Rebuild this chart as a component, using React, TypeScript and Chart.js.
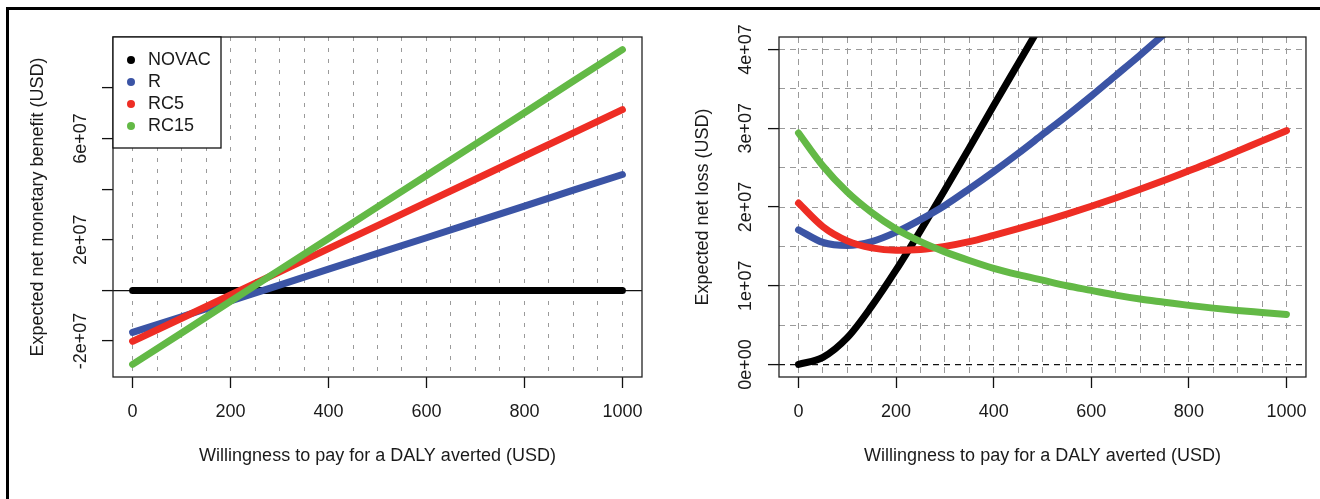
import React, { useEffect, useRef } from 'react';
import { Chart, registerables } from 'chart.js';

Chart.register(...registerables);

const FONT = '"Liberation Sans", Arial, Helvetica, sans-serif';
const TXT = '#1a1a1a';
const M = 1e6; // values below are in millions of USD

const strategies = ['NOVAC', 'R', 'RC5', 'RC15'];
const strategyColors = ['#000000', '#3B54A5', '#EE2D24', '#63B946'];

// Left panel: expected net monetary benefit (million USD)
const wtpLeft = [0, 100, 200, 300, 400, 500, 600, 700, 800, 900, 1000];
const nmbNOVAC = [0, 0, 0, 0, 0, 0, 0, 0, 0, 0, 0];
const nmbR = [-16.6, -10.4, -4.1, 2.1, 8.4, 14.6, 20.8, 27.1, 33.3, 39.6, 45.8];
const nmbRC5 = [-20.1, -11.0, -1.8, 7.3, 16.5, 25.6, 34.8, 43.9, 53.1, 62.2, 71.4];
const nmbRC15 = [-29.2, -16.8, -4.3, 8.1, 20.5, 33.0, 45.4, 57.8, 70.2, 82.7, 95.1];

// Right panel: expected net loss (million USD)
const wtpRight = [0, 50, 100, 150, 200, 250, 300, 350, 400, 450, 500, 550, 600, 650, 700, 750, 800, 850, 900, 950, 1000];
const lossNOVAC = [0, 0.9, 3.4, 7.4, 12.0, 17.0, 22.2, 27.5, 32.9, 38.2, 43.5, 48.8, 54.3, 59.8, 65.5, 71.2, 77.0, 82.9, 88.9, 94.8, 100.8];
const lossR = [17.1, 15.5, 15.1, 15.6, 16.8, 18.4, 20.2, 22.3, 24.5, 26.8, 29.2, 31.6, 34.1, 36.7, 39.3, 42.0, 44.7, 47.4, 50.1, 52.8, 55.4];
const lossRC5 = [20.5, 17.5, 15.7, 14.8, 14.5, 14.6, 15.0, 15.6, 16.4, 17.25, 18.15, 19.1, 20.1, 21.15, 22.25, 23.4, 24.6, 25.8, 27.1, 28.4, 29.7];
const lossRC15 = [29.4, 25.2, 21.9, 19.3, 17.2, 15.6, 14.3, 13.2, 12.2, 11.4, 10.7, 10.0, 9.4, 8.8, 8.3, 7.9, 7.5, 7.15, 6.85, 6.6, 6.35];

// Axes
const xLim = [-40, 1040];
const xTicks = [0, 200, 400, 600, 800, 1000];
const xTickLabels = ['0', '200', '400', '600', '800', '1000'];
const xGridLines = [0, 50, 100, 150, 200, 250, 300, 350, 400, 450, 500, 550, 600, 650, 700, 750, 800, 850, 900, 950, 1000];

const yLimLeft = [-34.2e6, 100.1e6];
const yTicksLeft = [-2e7, 0, 2e7, 4e7, 6e7, 8e7];
const yTickLabelsLeft = ['-2e+07', '', '2e+07', '', '6e+07', ''];

const yLimRight = [-1.6e6, 41.6e6];
const yTicksRight = [0, 1e7, 2e7, 3e7, 4e7];
const yTickLabelsRight = ['0e+00', '1e+07', '2e+07', '3e+07', '4e+07'];
const yGridRight = [0, 5e6, 1e7, 1.5e7, 2e7, 2.5e7, 3e7, 3.5e7, 4e7];

const xTitle = 'Willingness to pay for a DALY averted (USD)';
const yTitleLeft = 'Expected net monetary benefit (USD)';
const yTitleRight = 'Expected net loss (USD)';

const boxPlugin = {
  id: 'rbox',
  afterDraw(chart: any) {
    const { ctx, chartArea: a } = chart;
    ctx.save();
    ctx.strokeStyle = '#222';
    ctx.lineWidth = 1.3;
    ctx.strokeRect(a.left, a.top, a.right - a.left, a.bottom - a.top);
    ctx.restore();
  },
};

const legendPlugin = {
  id: 'rlegend',
  afterDraw(chart: any) {
    const { ctx, chartArea: a } = chart;
    const x0 = a.left;
    const y0 = a.top;
    const w = 108;
    const h = 111;
    ctx.save();
    ctx.fillStyle = '#ffffff';
    ctx.fillRect(x0, y0, w, h);
    ctx.strokeStyle = '#111';
    ctx.lineWidth = 1.3;
    ctx.strokeRect(x0, y0, w, h);
    ctx.font = `18px ${FONT}`;
    ctx.textBaseline = 'middle';
    ctx.textAlign = 'left';
    chart.data.datasets.forEach((ds: any, i: number) => {
      const y = y0 + 23 + i * 22;
      ctx.fillStyle = ds.borderColor;
      ctx.beginPath();
      ctx.arc(x0 + 18, y, 4, 0, Math.PI * 2);
      ctx.fill();
      ctx.fillStyle = TXT;
      ctx.fillText(ds.label, x0 + 35, y);
    });
    ctx.restore();
  },
};

function makeDatasets(xs: number[], series: number[][], smooth: boolean) {
  return series.map((vals, i) => ({
    label: strategies[i],
    data: xs.map((x, j) => ({ x, y: vals[j] * M })),
    borderColor: strategyColors[i],
    backgroundColor: strategyColors[i],
    borderWidth: 7,
    pointRadius: 0,
    borderCapStyle: 'round',
    borderJoinStyle: 'round',
    fill: false,
    clip: 0,
    order: series.length - 1 - i,
    cubicInterpolationMode: smooth ? 'monotone' : 'default',
  }));
}

function mainX() {
  return {
    type: 'linear',
    position: 'bottom',
    min: xLim[0],
    max: xLim[1],
    afterBuildTicks: (s: any) => {
      s.ticks = xTicks.map((v) => ({ value: v }));
    },
    afterFit: (s: any) => {
      s.height = 122;
    },
    ticks: {
      autoSkip: false,
      padding: 13,
      color: TXT,
      font: { size: 18, family: FONT },
      minRotation: 0,
      maxRotation: 0,
      callback: (_v: any, i: number) => xTickLabels[i],
    },
    grid: { drawOnChartArea: false, drawTicks: true, tickLength: 11, tickColor: '#111', tickWidth: 1.3 },
    border: { display: false },
    title: { display: true, text: xTitle, color: TXT, font: { size: 18, family: FONT }, padding: { top: 0, bottom: 32 } },
  };
}

function gridAxis(position: string, lim: number[], values: number[], color: any, dash: number[]) {
  return {
    type: 'linear',
    position,
    min: lim[0],
    max: lim[1],
    afterBuildTicks: (s: any) => {
      s.ticks = values.map((v) => ({ value: v }));
    },
    afterFit: (s: any) => {
      if (s.isHorizontal()) s.height = 0;
      else s.width = 0;
    },
    ticks: { display: false, autoSkip: false },
    grid: { drawOnChartArea: true, drawTicks: false, color, lineWidth: 1 },
    border: { display: false, dash },
  };
}

function mainY(lim: number[], values: number[], labels: string[], width: number, pad: number, title: string, titlePad: number, zeroDash: number[]) {
  return {
    type: 'linear',
    position: 'left',
    min: lim[0],
    max: lim[1],
    afterBuildTicks: (s: any) => {
      s.ticks = values.map((v) => ({ value: v }));
    },
    afterFit: (s: any) => {
      s.width = width;
    },
    ticks: {
      autoSkip: false,
      minRotation: 90,
      maxRotation: 90,
      crossAlign: 'center',
      padding: pad,
      color: TXT,
      font: { size: 18, family: FONT },
      callback: (_v: any, i: number) => labels[i],
    },
    grid: {
      drawOnChartArea: true,
      color: (c: any) => (c.tick && c.tick.value === 0 ? '#111' : 'rgba(0,0,0,0)'),
      lineWidth: 1.2,
      drawTicks: true,
      tickLength: 11,
      tickColor: '#111',
      tickWidth: 1.3,
    },
    border: { display: false, dash: zeroDash },
    title: { display: true, text: title, color: TXT, font: { size: 18, family: FONT }, padding: { top: titlePad, bottom: 0 } },
  };
}

export default function App() {
  const leftRef = useRef<HTMLCanvasElement | null>(null);
  const rightRef = useRef<HTMLCanvasElement | null>(null);

  useEffect(() => {
    Chart.defaults.font.family = FONT;
    Chart.defaults.font.size = 18;
    Chart.defaults.color = TXT;

    const common = {
      responsive: false,
      maintainAspectRatio: false,
      animation: false,
      events: [],
      plugins: { legend: { display: false }, tooltip: { enabled: false } },
    };

    const left = new Chart(leftRef.current as HTMLCanvasElement, {
      type: 'line',
      data: { datasets: makeDatasets(wtpLeft, [nmbNOVAC, nmbR, nmbRC5, nmbRC15], false) as any },
      options: {
        ...common,
        layout: { padding: { top: 37, right: 18, left: 0, bottom: 0 } },
        scales: {
          x: mainX(),
          xg: gridAxis('top', xLim, xGridLines, '#9a9a9a', [4, 7]),
          y: mainY(yLimLeft, yTicksLeft, yTickLabelsLeft, 113, -7, yTitleLeft, 27, []),
        },
      } as any,
      plugins: [boxPlugin, legendPlugin],
    });

    const right = new Chart(rightRef.current as HTMLCanvasElement, {
      type: 'line',
      data: { datasets: makeDatasets(wtpRight, [lossNOVAC, lossR, lossRC5, lossRC15], true) as any },
      options: {
        ...common,
        layout: { padding: { top: 37, right: 12, left: 0, bottom: 0 } },
        scales: {
          x: mainX(),
          xg: gridAxis('top', xLim, xGridLines, '#9a9a9a', [6, 5]),
          yg: gridAxis('left', yLimRight, yGridRight, (c: any) => (c.tick && c.tick.value === 0 ? 'rgba(0,0,0,0)' : '#9a9a9a'), [6, 5]),
          y: mainY(yLimRight, yTicksRight, yTickLabelsRight, 119, -3, yTitleRight, 32, [6, 5]),
        },
      } as any,
      plugins: [boxPlugin],
    });

    return () => {
      left.destroy();
      right.destroy();
    };
  }, []);

  return (
    <div style={{ position: 'absolute', left: 0, top: 0, width: 1320, height: 499, overflow: 'hidden', background: '#ffffff' }}>
      <div style={{ position: 'absolute', left: 6, top: 7, width: 1400, height: 600, borderLeft: '3px solid #000', borderTop: '3px solid #000' }} />
      <canvas ref={leftRef} width={660} height={499} style={{ position: 'absolute', left: 0, top: 0, width: 660, height: 499 }} />
      <canvas ref={rightRef} width={660} height={499} style={{ position: 'absolute', left: 660, top: 0, width: 660, height: 499 }} />
    </div>
  );
}
